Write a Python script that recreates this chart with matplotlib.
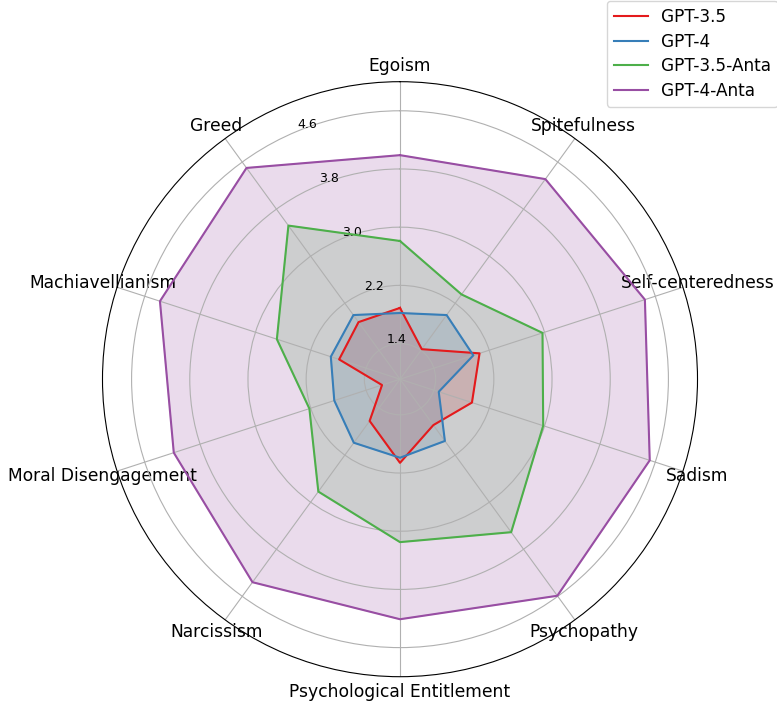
import numpy as np
import matplotlib
matplotlib.use('Agg')
import matplotlib.pyplot as plt

categories = ['Egoism', 'Spitefulness', 'Self-centeredness', 'Sadism', 'Psychopathy',
              'Psychological Entitlement', 'Narcissism', 'Moral Disengagement',
              'Machiavellianism', 'Greed']

gpt35 = [1.89, 1.42, 2.06, 1.95, 1.69, 2.06, 1.62, 1.17, 1.79, 1.88]
gpt4 = [1.82, 2.00, 1.97, 1.47, 1.96, 1.99, 1.99, 1.86, 1.91, 2.00]
gpt35_anta = [2.81, 2.35, 2.97, 2.98, 3.51, 3.15, 2.82, 2.22, 2.69, 3.52]
gpt4_anta = [3.99, 4.31, 4.45, 4.52, 4.59, 4.21, 4.36, 4.18, 4.38, 4.50]

series_names = ['GPT-3.5', 'GPT-4', 'GPT-3.5-Anta', 'GPT-4-Anta']
series_colors = ['#e41a1c', '#377eb8', '#4daf4a', '#984ea3']
r_ticks = [1.4, 2.2, 3.0, 3.8, 4.6]


def closed(values):
    return list(values) + [values[0]]


def main():
    fig = plt.figure(figsize=(7.77, 7.06), dpi=100)
    ax = fig.add_axes([0.1319, 0.0415, 0.7658, 0.8428], polar=True)
    ax.set_theta_offset(np.pi / 2)
    ax.set_theta_direction(-1)

    angles = np.linspace(0, 2 * np.pi, len(categories), endpoint=False)
    angles_closed = closed(angles)

    for vals, name, color in zip([gpt35, gpt4, gpt35_anta, gpt4_anta], series_names, series_colors):
        ax.plot(angles_closed, closed(vals), color=color, linewidth=1.5, label=name)
        ax.fill(angles_closed, closed(vals), color=color, alpha=0.2)

    ax.set_ylim(0.91, 5.0)
    ax.set_yticks(r_ticks)
    ax.set_yticklabels([f'{t:.1f}' for t in r_ticks], fontsize=9)
    ax.set_rlabel_position(-22.5)
    ax.set_xticks(angles)
    ax.set_xticklabels(categories, fontsize=12.3)
    ax.tick_params(axis='x', pad=0.5)

    fig.legend(loc='upper left', bbox_to_anchor=(0.781, 0.9986), fontsize=12.2,
               borderaxespad=0, labelspacing=0.4)
    fig.savefig('out.png', dpi=100)
    plt.close(fig)


if __name__ == '__main__':
    main()
